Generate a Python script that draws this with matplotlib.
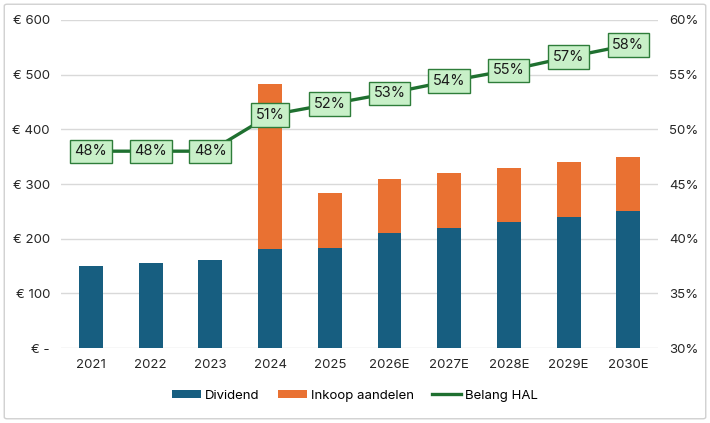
#!/usr/bin/env python3

import matplotlib.pyplot as plt
from matplotlib.patches import FancyBboxPatch

years = ["2021", "2022", "2023", "2024", "2025", "2026E", "2027E", "2028E", "2029E", "2030E"]
dividend = [150, 156, 162, 182, 183, 210, 220, 230, 240, 250]
inkoop = [0, 0, 0, 300, 100, 100, 100, 100, 100, 100]
belang = [48.0, 48.0, 48.0, 51.3, 52.3, 53.3, 54.4, 55.4, 56.6, 57.7]

BLUE = "#175e80"
ORANGE = "#e97132"
GREEN = "#1f7030"
GRID = "#d9d9d9"


def main() -> None:
    plt.rcParams["font.family"] = ["Inter", "DejaVu Sans"]
    fig = plt.figure(figsize=(7.1, 4.23), dpi=100)
    fig.patches.append(
        FancyBboxPatch((0.006, 0.01), 0.988, 0.98, boxstyle="round,pad=0,rounding_size=0.004",
                       transform=fig.transFigure, fill=False, edgecolor="#d0d0d0", linewidth=1)
    )
    ax = fig.add_axes([0.086, 0.177, 0.841, 0.776])
    x = range(len(years))

    ax.bar(x, dividend, width=0.4, color=BLUE, label="Dividend", zorder=2)
    ax.bar(x, inkoop, width=0.4, bottom=dividend, color=ORANGE, label="Inkoop aandelen", zorder=2)

    ax.set_ylim(0, 600)
    ax.set_xlim(-0.5, len(years) - 0.5)
    ax.set_yticks(range(0, 601, 100))
    ax.set_yticklabels(["€ -"] + [f"€ {v}" for v in range(100, 601, 100)])
    ax.set_xticks(list(x))
    ax.set_xticklabels(years)
    ax.yaxis.grid(True, color=GRID, linewidth=1)
    ax.set_axisbelow(True)
    for s in ax.spines.values():
        s.set_visible(False)
    ax.tick_params(length=0, labelsize=9.5, colors="#262626", pad=8)

    ax2 = ax.twinx()
    ax2.plot(x, belang, color=GREEN, linewidth=2.4, label="Belang HAL", zorder=3)
    ax2.set_ylim(30, 60)
    ax2.set_yticks(range(30, 61, 5))
    ax2.set_yticklabels([f"{v}%" for v in range(30, 61, 5)])
    for s in ax2.spines.values():
        s.set_visible(False)
    ax2.tick_params(length=0, labelsize=9.5, colors="#262626", pad=8)
    for xi, v in zip(x, belang):
        ax2.text(xi, v, f"{v:.0f}%", ha="center", va="center", fontsize=10.5, color="#1a1a1a",
                 bbox=dict(boxstyle="square,pad=0.32", facecolor="#c8f0c8", edgecolor="#2e7d3a", linewidth=1),
                 zorder=4)

    h1, l1 = ax.get_legend_handles_labels()
    h2, l2 = ax2.get_legend_handles_labels()
    fig.legend(h1 + h2, l1 + l2, loc="center", bbox_to_anchor=(0.5, 0.065), ncol=3, frameon=False,
               fontsize=9.5, handlelength=2.2, handleheight=0.6, handletextpad=0.3, columnspacing=1.4)

    fig.savefig("out.png", dpi=100)


if __name__ == "__main__":
    main()
